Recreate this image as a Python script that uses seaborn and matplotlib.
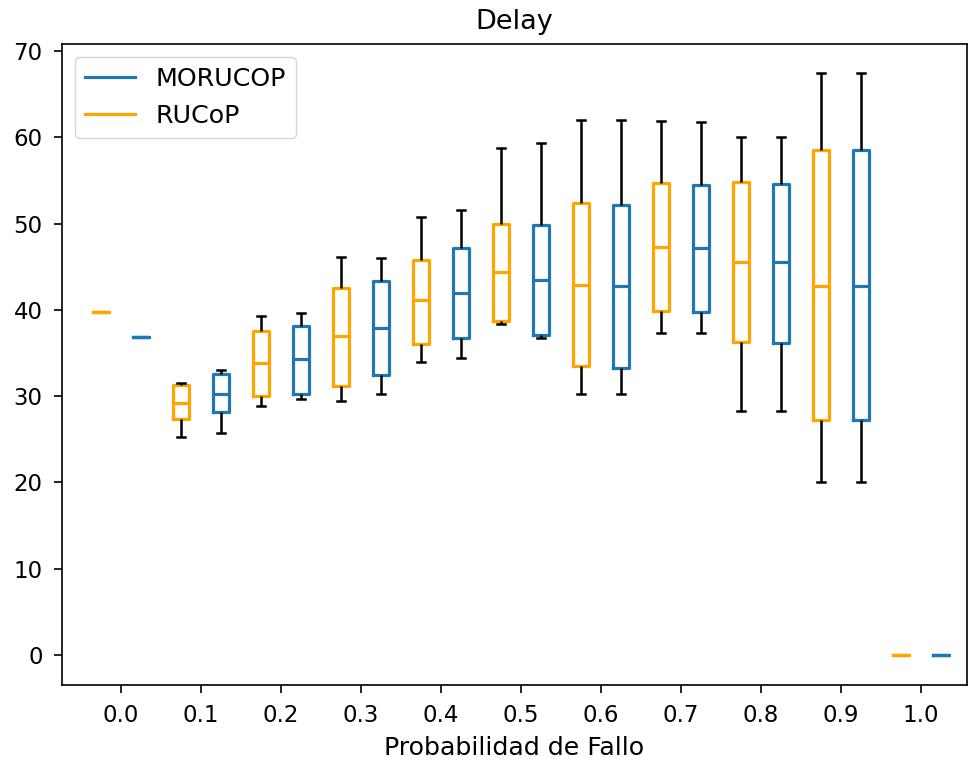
import numpy as np
import pandas as pd
import matplotlib
matplotlib.use('Agg')
import matplotlib.pyplot as plt
from matplotlib.lines import Line2D
import seaborn as sns

# Failure probabilities (x categories)
probs = ['0.0', '0.1', '0.2', '0.3', '0.4', '0.5', '0.6', '0.7', '0.8', '0.9', '1.0']

# Five-number summaries: [min, q1, median, q3, max]
rucop_stats = [
    [39.7, 39.7, 39.7, 39.7, 39.7],
    [25.3, 27.3, 29.2, 31.3, 31.5],
    [28.8, 30.0, 33.8, 37.5, 39.3],
    [29.4, 31.2, 37.0, 42.5, 46.1],
    [33.9, 36.0, 41.1, 45.8, 50.8],
    [38.4, 38.7, 44.4, 49.9, 58.8],
    [30.2, 33.5, 42.9, 52.4, 62.0],
    [37.3, 39.9, 47.3, 54.7, 61.9],
    [28.3, 36.3, 45.6, 54.8, 60.0],
    [20.0, 27.2, 42.8, 58.5, 67.5],
    [0.0, 0.0, 0.0, 0.0, 0.0],
]
morucop_stats = [
    [36.8, 36.8, 36.8, 36.8, 36.8],
    [25.7, 28.2, 30.3, 32.6, 33.0],
    [29.7, 30.3, 34.3, 38.1, 39.6],
    [30.3, 32.4, 37.9, 43.3, 46.0],
    [34.4, 36.7, 42.0, 47.2, 51.6],
    [36.7, 37.1, 43.5, 49.8, 59.4],
    [30.2, 33.3, 42.8, 52.2, 62.0],
    [37.3, 39.8, 47.2, 54.5, 61.8],
    [28.3, 36.2, 45.5, 54.6, 60.0],
    [20.0, 27.2, 42.8, 58.5, 67.5],
    [0.0, 0.0, 0.0, 0.0, 0.0],
]

series = {'RUCoP': rucop_stats, 'MORUCOP': morucop_stats}
colors = {'RUCoP': 'orange', 'MORUCOP': '#1f77b4'}

# long-format table
rows = []
for name, stats in series.items():
    for p, vals in zip(probs, stats):
        for v in vals:
            rows.append({'prob': p, 'alg': name, 'delay': v})
df = pd.DataFrame(rows)

fig, ax = plt.subplots(figsize=(9.69, 7.62), dpi=100)

sns.boxplot(
    data=df, x='prob', y='delay', hue='alg',
    order=probs, hue_order=['RUCoP', 'MORUCOP'], palette=colors,
    fill=False, width=1.0, gap=0.6, whis=(0, 100), showfliers=False,
    linewidth=2.3, legend=False, ax=ax,
    whiskerprops=dict(color='black', linewidth=1.8),
    capprops=dict(color='black', linewidth=1.8),
)

ax.set_xlim(-0.74, 10.58)
ax.set_ylim(-3.5, 70.8)
ax.set_yticks(np.arange(0, 71, 10))
ax.set_title('Delay', fontsize=19.5, pad=11)
ax.set_xlabel('Probabilidad de Fallo', fontsize=18.2, labelpad=6)
ax.set_ylabel('')
ax.tick_params(labelsize=16.5, length=6, width=1.2, pad=8)
for sp in ax.spines.values():
    sp.set_linewidth(1.2)

handles = [Line2D([], [], color=colors['MORUCOP'], lw=2.3),
           Line2D([], [], color=colors['RUCoP'], lw=2.3)]
ax.legend(handles, ['MORUCOP', 'RUCoP'], loc='upper left', fontsize=18.2)

fig.subplots_adjust(left=0.064, right=0.998, top=0.942, bottom=0.101)
fig.savefig('out.png', dpi=100)
